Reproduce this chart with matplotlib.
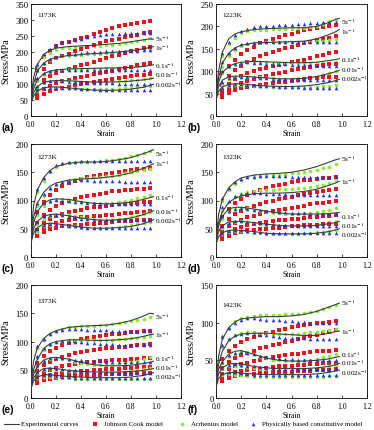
import matplotlib
matplotlib.use("Agg")
import matplotlib.pyplot as plt
from matplotlib.lines import Line2D

plt.rcParams['font.family'] = ['Liberation Serif', 'DejaVu Serif']
plt.rcParams['mathtext.fontset'] = 'stix'

rates = ["5s$^{-1}$", "1s$^{-1}$", "0.1s$^{-1}$", "0.01s$^{-1}$", "0.002s$^{-1}$"]
temps = ["1173K", "1223K", "1273K", "1323K", "1373K", "1423K"]
panel_tags = ["(a)", "(b)", "(c)", "(d)", "(e)", "(f)"]
ymax = [350, 250, 200, 200, 200, 150]

strain_curve = [0, 0.02, 0.05, 0.1, 0.15, 0.2, 0.3, 0.4, 0.5, 0.6, 0.7, 0.8, 0.9, 0.95, 0.98]
strain_model = [0.05, 0.1, 0.15, 0.2, 0.25, 0.3, 0.35, 0.4, 0.45, 0.5,
                0.55, 0.6, 0.65, 0.7, 0.75, 0.8, 0.85, 0.9, 0.95]

# ---------------- 1173K ----------------
exp_1173 = [
    [50, 120, 160, 192, 205, 212, 217, 219, 221, 224, 227, 232, 238, 241, 240],
    [48, 100, 140, 165, 177, 183, 189, 192, 195, 197, 200, 204, 210, 214, 217],
    [45, 85, 112, 132, 140, 144, 147, 148, 149, 150, 150, 152, 155, 158, 160],
    [42, 72, 92, 105, 109, 111, 110, 108, 106, 106, 107, 109, 113, 116, 118],
    [40, 62, 78, 88, 91, 91, 88, 84, 81, 80, 81, 84, 90, 95, 99],
]
jc_1173 = [
    [150, 183, 203, 218, 228, 232, 238, 243, 246, 256, 262, 269, 274, 280, 284, 288, 292, 295, 298],
    [112, 148, 168, 180, 188, 195, 202, 208, 215, 222, 227, 233, 238, 242, 246, 250, 254, 258, 262],
    [85, 112, 125, 133, 140, 147, 153, 158, 163, 170, 176, 182, 187, 192, 197, 202, 206, 211, 215],
    [65, 85, 95, 102, 108, 113, 118, 122, 126, 130, 134, 138, 142, 146, 150, 154, 158, 162, 165],
    [55, 70, 78, 84, 88, 92, 96, 100, 103, 106, 109, 112, 115, 118, 121, 124, 127, 129, 131],
]
arr_1173 = [
    [152, 183, 198, 207, 212, 214, 216, 217, 218, 219, 220, 221, 223, 225, 228, 231, 235, 239, 243],
    [140, 162, 175, 182, 186, 189, 190, 192, 193, 194, 195, 196, 197, 199, 201, 203, 205, 208, 210],
    [110, 128, 138, 143, 145, 146, 147, 147, 148, 148, 148, 149, 150, 151, 152, 154, 156, 159, 163],
    [92, 103, 108, 110, 110, 109, 108, 107, 106, 106, 106, 106, 107, 108, 109, 111, 113, 116, 118],
    [78, 86, 88, 89, 88, 87, 86, 85, 84, 83, 83, 83, 84, 85, 87, 89, 91, 93, 95],
]
phys_1173 = [
    [161, 193, 210, 222, 230, 235, 238, 242, 246, 250, 253, 255, 256, 257, 258, 258, 258, 258, 258],
    [145, 165, 178, 185, 190, 193, 195, 197, 199, 200, 201, 202, 202, 203, 203, 204, 204, 205, 205],
    [120, 135, 140, 143, 144, 145, 145, 145, 145, 145, 145, 145, 145, 145, 145, 145, 145, 145, 145],
    [95, 105, 108, 109, 108, 107, 106, 105, 104, 103, 103, 102, 102, 101, 101, 101, 100, 100, 100],
    [80, 87, 89, 89, 88, 87, 86, 85, 84, 83, 82, 82, 81, 81, 80, 80, 80, 80, 80],
]

# ---------------- 1223K ----------------
exp_1223 = [
    [45, 100, 142, 172, 183, 188, 193, 195, 196, 197, 197, 200, 209, 216, 218],
    [42, 85, 118, 140, 152, 158, 163, 164, 165, 166, 167, 172, 182, 188, 193],
    [40, 75, 97, 110, 117, 120, 122, 121, 120, 119, 119, 120, 124, 126, 128],
    [38, 65, 80, 87, 89, 89, 87, 85, 83, 83, 84, 88, 95, 99, 102],
    [35, 55, 65, 70, 72, 72, 69, 67, 66, 66, 67, 70, 75, 79, 82],
]
jc_1223 = [
    [95, 112, 125, 138, 148, 155, 162, 167, 172, 176, 180, 184, 188, 191, 194, 197, 199, 201, 203],
    [70, 90, 102, 112, 120, 127, 133, 138, 143, 147, 151, 155, 159, 163, 166, 169, 172, 175, 178],
    [55, 72, 82, 90, 96, 101, 105, 108, 111, 114, 117, 120, 123, 126, 130, 134, 137, 140, 143],
    [48, 60, 68, 74, 79, 83, 87, 90, 93, 96, 99, 102, 104, 107, 109, 111, 113, 115, 117],
    [42, 52, 58, 62, 65, 67, 69, 71, 73, 75, 77, 79, 81, 83, 84, 85, 86, 87, 88],
]
arr_1223 = [
    [135, 160, 175, 185, 189, 191, 192, 193, 194, 194, 195, 195, 196, 197, 199, 202, 206, 211, 215],
    [110, 135, 148, 157, 161, 163, 164, 165, 165, 165, 165, 165, 165, 166, 166, 167, 168, 170, 172],
    [95, 110, 116, 119, 120, 120, 120, 120, 119, 119, 118, 118, 118, 118, 118, 118, 119, 119, 120],
    [70, 82, 86, 88, 88, 87, 86, 85, 84, 83, 83, 83, 84, 85, 86, 88, 91, 95, 100],
    [62, 68, 70, 70, 69, 68, 67, 66, 65, 64, 64, 64, 64, 64, 65, 65, 66, 67, 69],
]
phys_1223 = [
    [140, 165, 180, 190, 195, 198, 200, 201, 202, 203, 204, 204, 205, 206, 207, 208, 209, 209, 210],
    [120, 140, 152, 160, 163, 164, 165, 165, 165, 165, 165, 165, 165, 165, 165, 165, 165, 165, 165],
    [100, 112, 117, 119, 120, 119, 118, 117, 116, 115, 115, 114, 114, 113, 113, 113, 112, 112, 112],
    [75, 84, 87, 88, 87, 86, 85, 84, 83, 82, 82, 81, 81, 80, 80, 80, 80, 80, 80],
    [62, 69, 71, 71, 70, 69, 68, 67, 66, 65, 64, 64, 64, 63, 63, 63, 63, 63, 63],
]

# ---------------- 1273K ----------------
exp_1273 = [
    [35, 90, 118, 140, 153, 160, 166, 168, 168, 169, 172, 176, 183, 187, 190],
    [32, 70, 95, 114, 125, 131, 136, 138, 139, 141, 144, 149, 157, 162, 165],
    [30, 60, 80, 95, 101, 103, 102, 98, 95, 94, 95, 97, 102, 105, 107],
    [28, 50, 63, 72, 75, 76, 73, 69, 66, 65, 66, 69, 75, 79, 82],
    [25, 42, 52, 58, 60, 59, 56, 53, 51, 51, 52, 54, 59, 63, 66],
]
jc_1273 = [
    [80, 98, 110, 119, 126, 131, 135, 138, 141, 143, 145, 147, 149, 151, 153, 154, 155, 156, 157],
    [60, 75, 84, 91, 96, 100, 103, 106, 108, 110, 112, 114, 116, 117, 118, 119, 120, 121, 122],
    [48, 60, 67, 72, 76, 79, 82, 84, 86, 88, 89, 91, 92, 93, 94, 95, 96, 97, 98],
    [42, 52, 57, 61, 64, 66, 68, 70, 71, 72, 73, 74, 75, 76, 77, 78, 79, 80, 81],
    [38, 45, 49, 52, 54, 55, 56, 57, 58, 59, 60, 61, 62, 63, 63, 64, 65, 65, 66],
]
arr_1273 = [
    [115, 135, 150, 160, 165, 167, 168, 169, 169, 169, 170, 171, 172, 174, 176, 178, 181, 184, 187],
    [90, 108, 120, 128, 133, 136, 138, 139, 140, 141, 142, 143, 144, 146, 148, 150, 152, 154, 156],
    [75, 90, 98, 101, 102, 101, 99, 97, 96, 95, 95, 95, 96, 97, 99, 101, 104, 107, 110],
    [58, 68, 73, 75, 75, 74, 72, 70, 68, 67, 66, 66, 66, 67, 68, 70, 73, 76, 80],
    [45, 54, 57, 58, 57, 55, 54, 52, 51, 51, 51, 51, 52, 53, 54, 56, 58, 60, 62],
]
phys_1273 = [
    [120, 140, 153, 162, 166, 168, 169, 170, 170, 170, 170, 170, 170, 170, 170, 170, 170, 170, 170],
    [95, 112, 123, 130, 133, 135, 136, 136, 136, 135, 135, 134, 134, 134, 133, 133, 133, 133, 133],
    [80, 95, 100, 101, 100, 99, 98, 97, 96, 95, 94, 94, 93, 93, 93, 93, 93, 93, 93],
    [62, 72, 75, 75, 74, 72, 70, 68, 67, 66, 66, 65, 65, 65, 65, 65, 65, 65, 65],
    [50, 57, 59, 58, 57, 55, 54, 53, 52, 51, 51, 51, 51, 51, 51, 51, 51, 51, 51],
]

# ---------------- 1323K ----------------
exp_1323 = [
    [30, 75, 102, 122, 133, 140, 145, 147, 148, 150, 154, 160, 168, 172, 174],
    [28, 60, 80, 96, 104, 108, 112, 113, 113, 114, 116, 120, 127, 131, 134],
    [26, 55, 72, 85, 88, 88, 85, 81, 78, 76, 76, 76, 77, 78, 79],
    [24, 45, 55, 62, 63, 63, 61, 58, 56, 55, 55, 56, 59, 61, 63],
    [22, 36, 43, 47, 48, 47, 45, 42, 41, 41, 41, 42, 45, 48, 50],
]
jc_1323 = [
    [70, 85, 95, 103, 110, 115, 119, 122, 125, 128, 130, 132, 134, 136, 137, 138, 139, 140, 141],
    [55, 68, 76, 82, 87, 91, 94, 97, 100, 103, 105, 107, 109, 111, 113, 115, 116, 118, 120],
    [45, 55, 61, 66, 70, 73, 76, 79, 81, 83, 85, 87, 89, 91, 93, 95, 96, 98, 100],
    [38, 45, 50, 53, 56, 58, 60, 62, 63, 65, 66, 67, 68, 69, 70, 71, 72, 73, 74],
    [32, 38, 42, 45, 47, 48, 49, 50, 51, 52, 53, 54, 55, 56, 56, 57, 58, 58, 59],
]
arr_1323 = [
    [100, 118, 130, 137, 141, 143, 144, 145, 146, 146, 147, 148, 149, 150, 152, 154, 157, 160, 164],
    [82, 98, 107, 112, 115, 117, 118, 119, 119, 120, 120, 121, 122, 123, 124, 126, 128, 131, 134],
    [68, 80, 85, 86, 86, 84, 82, 80, 78, 77, 76, 76, 76, 77, 78, 80, 82, 84, 86],
    [52, 60, 62, 63, 62, 61, 59, 57, 56, 55, 55, 55, 55, 56, 57, 58, 60, 62, 64],
    [40, 45, 46, 46, 45, 43, 42, 41, 40, 40, 40, 40, 41, 42, 43, 44, 45, 46, 47],
]
phys_1323 = [
    [105, 122, 132, 138, 141, 142, 143, 143, 143, 143, 143, 142, 142, 142, 142, 142, 142, 142, 142],
    [88, 100, 108, 112, 114, 114, 113, 112, 112, 111, 111, 110, 110, 110, 110, 110, 110, 110, 110],
    [72, 82, 85, 86, 85, 84, 83, 82, 81, 80, 79, 78, 77, 77, 76, 76, 76, 76, 76],
    [55, 61, 63, 63, 62, 61, 60, 59, 58, 57, 56, 56, 55, 55, 55, 55, 55, 55, 55],
    [42, 46, 47, 47, 46, 45, 44, 43, 42, 42, 42, 42, 42, 42, 42, 42, 42, 42, 42],
]

# ---------------- 1373K ----------------
exp_1373 = [
    [25, 65, 88, 105, 114, 119, 125, 127, 128, 129, 132, 137, 145, 150, 149],
    [22, 50, 68, 87, 96, 100, 103, 103, 102, 102, 103, 105, 109, 112, 113],
    [20, 42, 55, 67, 71, 72, 69, 63, 59, 57, 57, 58, 61, 63, 65],
    [18, 35, 45, 52, 53, 52, 49, 47, 46, 46, 46, 47, 49, 51, 52],
    [16, 30, 37, 41, 41, 40, 38, 37, 36, 36, 36, 37, 40, 43, 45],
]
jc_1373 = [
    [62, 75, 83, 89, 94, 98, 101, 104, 106, 108, 110, 112, 113, 114, 115, 116, 117, 118, 119],
    [48, 58, 64, 69, 73, 76, 79, 81, 83, 85, 86, 88, 89, 90, 91, 92, 93, 94, 95],
    [38, 45, 50, 53, 56, 58, 60, 62, 63, 64, 65, 66, 67, 68, 68, 69, 69, 70, 70],
    [32, 37, 40, 42, 44, 45, 46, 47, 48, 49, 50, 51, 52, 52, 53, 53, 54, 54, 55],
    [27, 31, 34, 36, 37, 38, 39, 40, 40, 41, 41, 42, 42, 43, 43, 43, 44, 44, 44],
]
arr_1373 = [
    [88, 103, 113, 119, 123, 125, 126, 127, 128, 128, 129, 130, 131, 132, 134, 136, 138, 140, 143],
    [70, 85, 94, 99, 101, 102, 102, 102, 102, 102, 102, 102, 103, 104, 105, 106, 107, 108, 109],
    [55, 65, 69, 70, 69, 67, 64, 62, 60, 59, 58, 58, 59, 60, 62, 64, 66, 69, 72],
    [44, 50, 51, 51, 50, 48, 47, 46, 45, 44, 44, 44, 44, 45, 46, 47, 49, 51, 53],
    [36, 38, 38, 37, 36, 35, 34, 33, 33, 33, 33, 33, 33, 33, 33, 33, 34, 34, 34],
]
phys_1373 = [
    [92, 105, 113, 118, 121, 122, 122, 122, 121, 121, 120, 120, 119, 119, 119, 118, 118, 118, 118],
    [75, 88, 96, 100, 101, 101, 100, 99, 98, 97, 96, 95, 95, 94, 94, 93, 93, 93, 93],
    [58, 66, 70, 71, 70, 69, 68, 67, 66, 65, 65, 64, 64, 64, 64, 64, 64, 64, 64],
    [46, 51, 53, 52, 51, 50, 49, 48, 47, 46, 46, 46, 45, 45, 45, 45, 45, 45, 45],
    [38, 40, 40, 39, 38, 37, 36, 35, 35, 35, 35, 35, 35, 35, 35, 35, 35, 35, 35],
]

# ---------------- 1423K ----------------
exp_1423 = [
    [22, 55, 78, 93, 101, 105, 107, 108, 108, 109, 111, 115, 121, 124, 126],
    [20, 45, 62, 76, 82, 85, 86, 86, 85, 84, 83, 83, 86, 88, 89],
    [18, 38, 48, 58, 62, 63, 58, 53, 50, 49, 49, 50, 52, 54, 55],
    [16, 32, 40, 45, 46, 45, 42, 40, 39, 39, 39, 40, 42, 44, 46],
    [14, 26, 31, 34, 34, 33, 32, 31, 31, 31, 31, 32, 34, 36, 37],
]
jc_1423 = [
    [52, 62, 69, 74, 78, 81, 84, 86, 88, 90, 92, 94, 96, 97, 98, 99, 100, 101, 102],
    [40, 48, 53, 57, 60, 63, 66, 68, 70, 72, 74, 76, 78, 80, 82, 84, 86, 88, 90],
    [32, 38, 42, 45, 47, 49, 51, 53, 54, 56, 57, 58, 59, 60, 61, 62, 63, 63, 64],
    [27, 31, 34, 36, 37, 38, 39, 40, 41, 42, 43, 43, 44, 44, 45, 45, 46, 46, 47],
    [23, 27, 29, 30, 31, 32, 33, 33, 34, 34, 35, 35, 36, 36, 36, 37, 37, 37, 38],
]
arr_1423 = [
    [80, 93, 102, 106, 108, 109, 110, 110, 110, 110, 111, 111, 112, 113, 114, 116, 118, 121, 124],
    [68, 78, 83, 86, 87, 87, 86, 86, 85, 85, 85, 85, 85, 86, 87, 88, 89, 90, 92],
    [46, 55, 59, 61, 61, 58, 55, 53, 51, 50, 49, 49, 49, 50, 51, 52, 54, 56, 58],
    [38, 42, 43, 42, 41, 40, 39, 38, 37, 36, 36, 36, 36, 37, 38, 39, 40, 42, 44],
    [31, 32, 31, 30, 29, 28, 28, 28, 28, 28, 28, 28, 28, 28, 28, 28, 28, 29, 29],
]
phys_1423 = [
    [82, 93, 100, 104, 106, 106, 105, 104, 103, 103, 102, 102, 101, 101, 100, 100, 100, 100, 100],
    [70, 78, 83, 85, 86, 85, 84, 83, 82, 81, 80, 80, 79, 79, 78, 78, 78, 78, 78],
    [48, 57, 60, 61, 60, 58, 56, 55, 54, 53, 52, 52, 51, 51, 50, 50, 50, 50, 50],
    [40, 44, 45, 44, 43, 42, 41, 40, 40, 39, 39, 39, 38, 38, 38, 38, 38, 38, 38],
    [33, 34, 34, 33, 32, 31, 31, 30, 30, 30, 30, 30, 30, 30, 30, 30, 30, 30, 30],
]

exp_all = [exp_1173, exp_1223, exp_1273, exp_1323, exp_1373, exp_1423]
jc_all = [jc_1173, jc_1223, jc_1273, jc_1323, jc_1373, jc_1423]
arr_all = [arr_1173, arr_1223, arr_1273, arr_1323, arr_1373, arr_1423]
phys_all = [phys_1173, phys_1223, phys_1273, phys_1323, phys_1373, phys_1423]

# ---------------- layout ----------------
W, H = 374, 431
fig = plt.figure(figsize=(W / 100, H / 100), dpi=100)
boxes = [(31, 5, 181, 117), (216, 5, 367, 117),
         (31, 145, 181, 258), (216, 145, 367, 258),
         (31, 286, 181, 399), (216, 286, 367, 399)]
# rate-label heights (axes fraction)
label_pos = [[0.694, 0.613, 0.458, 0.372, 0.288],
             [0.851, 0.762, 0.509, 0.420, 0.337],
             [0.918, 0.829, 0.528, 0.410, 0.327],
             [0.876, 0.675, 0.366, 0.286, 0.205],
             [0.728, 0.566, 0.351, 0.272, 0.192],
             [0.847, 0.596, 0.390, 0.314, 0.230]]
temp_pos = [0.91, 0.91, 0.885, 0.885, 0.86, 0.83]

c_exp = '#3c3c3c'
c_jc = '#e8141c'
c_arr = '#86ee2a'
c_phys = '#1f2fff'
fs_tick_x = 5.6
fs_tick_y = 6.2
fs_lab = 5.2

for i in range(6):
    x0, y0, x1, y1 = boxes[i]
    ax = fig.add_axes([x0 / W, 1 - y1 / H, (x1 - x0) / W, (y1 - y0) / H])
    for k in range(5):
        ax.plot(strain_model, jc_all[i][k], 's', color=c_jc, ms=2.2, mew=0, zorder=3)
        ax.plot(strain_model, arr_all[i][k], 'o', color=c_arr, ms=2.6, mew=0, zorder=3)
        ax.plot(strain_model, phys_all[i][k], '^', color=c_phys, ms=2.6, mew=0, zorder=4)
        ax.plot(strain_curve, exp_all[i][k], '-', color=c_exp, lw=0.8, zorder=5)
        ax.text(0.995, label_pos[i][k], rates[k], transform=ax.get_xaxis_transform(),
                fontsize=fs_lab, ha='left', va='center', zorder=6)
    ax.set_xlim(0, 1.2)
    ax.set_ylim(0, ymax[i])
    ax.set_xticks([0, 0.2, 0.4, 0.6, 0.8, 1.0, 1.2])
    ax.set_yticks(list(range(0, ymax[i] + 1, 50)))
    ax.tick_params(direction='in', length=2, width=0.5)
    ax.tick_params(axis='x', labelsize=fs_tick_x, pad=2.6)
    ax.tick_params(axis='y', labelsize=fs_tick_y, pad=1.8)
    for sp in ax.spines.values():
        sp.set_linewidth(0.6)
    ax.set_xlabel("Strain", fontsize=5.6)
    ax.xaxis.set_label_coords(0.5, -0.115)
    ax.set_ylabel("Stress/MPa", fontsize=7.2)
    ax.yaxis.set_label_coords(-0.135, 0.5)
    ax.text(0.045, temp_pos[i], temps[i], transform=ax.transAxes, fontsize=5.2,
            ha='left', va='center')
    fig.text((x0 - 29) / W, 1 - (y1 + 11) / H, panel_tags[i], fontsize=7.5,
             fontweight='bold', family='Liberation Sans', ha='left', va='center')

# legend (drawn manually to match spacing)
ly = 1 - 425 / H
fig.add_artist(Line2D([4 / W, 19 / W], [ly, ly], color=c_exp, lw=0.8,
                      transform=fig.transFigure))
fig.text(21 / W, ly, "Experimental curves", fontsize=5.0, ha='left', va='center')
fig.add_artist(Line2D([95 / W], [ly], marker='s', color=c_jc, ms=2.2, mew=0,
                      ls='none', transform=fig.transFigure))
fig.text(104 / W, ly, "Johnson Cook model", fontsize=5.0, ha='left', va='center')
fig.add_artist(Line2D([182 / W], [ly], marker='o', color=c_arr, ms=2.6, mew=0,
                      ls='none', transform=fig.transFigure))
fig.text(191 / W, ly, "Arrhenius model", fontsize=5.0, ha='left', va='center')
fig.add_artist(Line2D([253 / W], [ly], marker='^', color=c_phys, ms=2.6, mew=0,
                      ls='none', transform=fig.transFigure))
fig.text(262 / W, ly, "Physically based constitutive model", fontsize=5.0,
         ha='left', va='center')

fig.savefig("out.png", dpi=100)
